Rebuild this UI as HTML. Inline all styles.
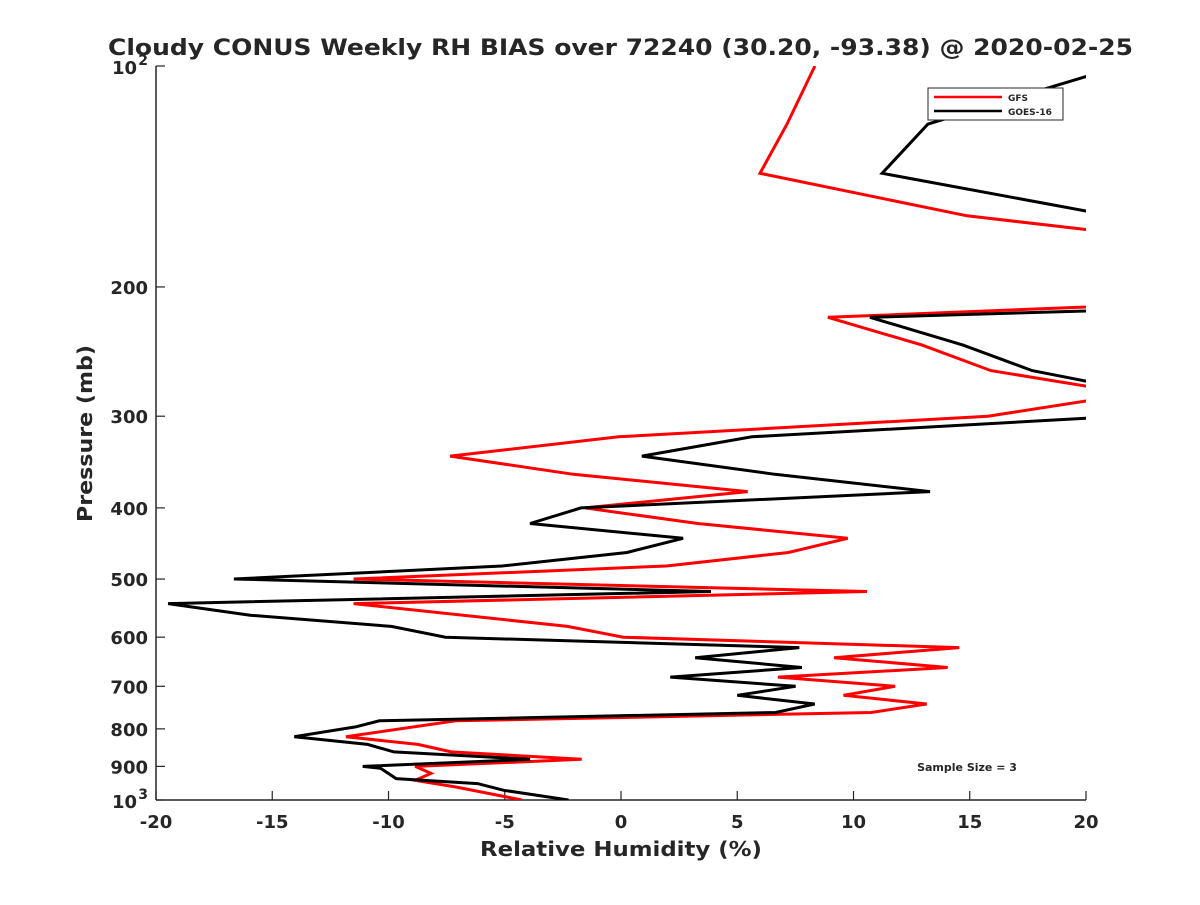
<!DOCTYPE html>
<html><head><meta charset="utf-8"><style>
body{margin:0;background:#fff;}
svg text{font-family:"DejaVu Sans","Liberation Sans",sans-serif;font-weight:bold;fill:#262626;}
</style></head><body>
<svg width="1200" height="900" xmlns="http://www.w3.org/2000/svg">
<defs><clipPath id="pc"><rect x="156" y="66" width="930" height="734"/></clipPath></defs>
<rect width="1200" height="900" fill="#fff"/>
<text x="108" y="55" font-size="22" textLength="1025" lengthAdjust="spacingAndGlyphs" fill="#000">Cloudy CONUS Weekly RH BIAS over 72240 (30.20, -93.38) @ 2020-02-25</text>
<g id="axes"></g>
<g id="series" clip-path="url(#pc)"></g>
<text x="480" y="856" font-size="20" textLength="282" lengthAdjust="spacingAndGlyphs">Relative Humidity (%)</text>
<text transform="translate(92,522) rotate(-90)" font-size="20" textLength="177" lengthAdjust="spacingAndGlyphs">Pressure (mb)</text>
<g>
<rect x="928" y="88" width="135" height="32" fill="#fff" stroke="#262626" stroke-width="1"/>
<line x1="934" y1="97" x2="1002" y2="97" stroke="#f00" stroke-width="2.5"/>
<text x="1008" y="101" font-size="9">GFS</text>
<line x1="934" y1="111" x2="1002" y2="111" stroke="#000" stroke-width="2.5"/>
<text x="1008" y="115" font-size="9">GOES-16</text>
</g>
<text x="967" y="771" font-size="11" text-anchor="middle" fill="#000">Sample Size = 3</text>
</svg>
<script>
const xTicks=[-20,-15,-10,-5,0,5,10,15,20];
const yTicks=[100,200,300,400,500,600,700,800,900,1000];
const yTickLabels=["","200","300","400","500","600","700","800","900",""];
const gfsP=[100,120,140,160,167,190,213,220,240,260,273,280,286,300,320,340,360,380,400,420,440,460,480,500,520,540,580,600,620,640,660,680,700,720,740,760,780,820,840,860,880,900,920,940,960,1000];
const gfsV=[8.34,7.14,5.98,14.88,20,35,20,8.9,12.95,15.91,20,30,20,15.78,-0.1,-7.35,-2.05,5.45,-1.55,3.3,9.75,7.2,1.95,-11.5,10.58,-11.5,-2.3,0.1,14.55,9.16,14.05,6.75,11.79,9.57,13.15,10.76,-7.1,-11.83,-8.74,-7.3,-1.69,-8.85,-8.17,-8.85,-7.1,-4.26];
const goesP=[100,120,140,157.6,185,215.7,220,240,260,268.7,285,302,320,340,360,380,400,420,440,460,480,500,520,540,560,580,600,620,640,660,680,700,720,740,760,780,795,820,840,860,880,900,905,935,950,970,1000];
const goesV=[21.5,13.2,11.23,20,35,20,10.71,14.71,17.68,20,35,20,5.63,0.9,6.62,13.29,-1.72,-3.91,2.67,0.26,-5.12,-16.65,3.87,-19.48,-15.95,-9.88,-7.55,7.67,3.19,7.78,2.12,7.51,5.0,8.33,6.65,-10.39,-11.42,-14.05,-10.9,-9.77,-3.91,-11.11,-10.35,-9.67,-6.17,-5.04,-2.26];
const NS="http://www.w3.org/2000/svg";
const X0=156,X1=1086,Y0=66,Y1=800;
function xs(v){return X0+(v+20)/40*(X1-X0);}
function ys(p){return Y0+(Math.log10(p)-2)*(Y1-Y0);}
function mk(t,a,parent){const e=document.createElementNS(NS,t);for(const k in a)e.setAttribute(k,a[k]);parent.appendChild(e);return e;}
const ax=document.getElementById('axes');
let l=mk('line',{x1:X0,y1:Y0,x2:X0,y2:Y1,stroke:'#262626','stroke-width':1.5},ax);


l=mk('line',{x1:X0,y1:Y1,x2:X1,y2:Y1,stroke:'#262626','stroke-width':1.5},ax);


xTicks.forEach(v=>{
 const x=xs(v);
 mk('line',{x1:x,y1:Y1,x2:x,y2:Y1-9,stroke:'#262626','stroke-width':1.2},ax);
 const t=mk('text',{x:x,y:Y1+28,'font-size':18,'text-anchor':'middle'},ax);
 t.textContent=String(v);
 
 
});
yTicks.forEach((p,i)=>{
 const y=ys(p);
 mk('line',{x1:X0,y1:y,x2:X0+9,y2:y,stroke:'#262626','stroke-width':1.2},ax);
 if(yTickLabels[i]){
  const t=mk('text',{x:X0-8,y:y+7,'font-size':18,'text-anchor':'end'},ax);
  t.textContent=yTickLabels[i];
  
  
 }
});
[[100,'2'],[1000,'3']].forEach(([p,s])=>{
 const y=ys(p);
 const t=mk('text',{x:X0-19,y:y+8,'font-size':18,'text-anchor':'end'},ax);
 t.textContent='10';
 
 
 const u=mk('text',{x:X0-8,y:y-1,'font-size':14,'text-anchor':'end'},ax);
 u.textContent=s;
 
 
});
const sg=document.getElementById('series');
function draw(P,V,col,name){
 const pts=P.map((p,i)=>xs(V[i]).toFixed(1)+','+ys(p).toFixed(1)).join(' ');
 const e=mk('polyline',{points:pts,fill:'none',stroke:col,'stroke-width':3,'stroke-linejoin':'miter'},sg);
 
 
}
draw(gfsP,gfsV,'#f00','gfs-line');
draw(goesP,goesV,'#000','goes16-line');
</script>
</body></html>
